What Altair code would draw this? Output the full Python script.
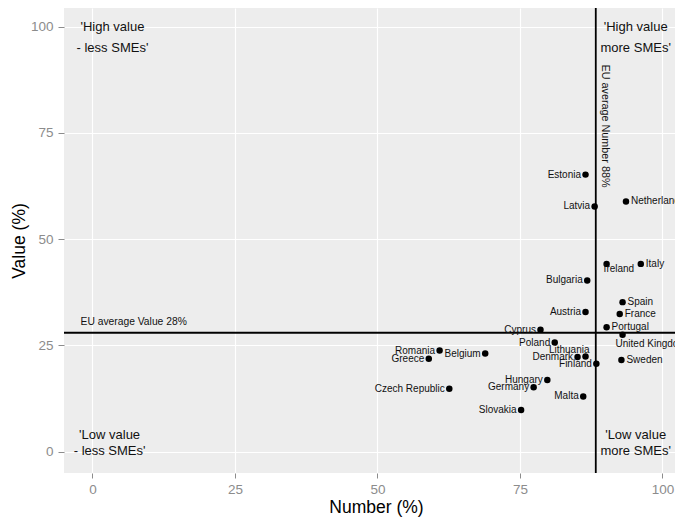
import altair as alt
import pandas as pd

# ---- data ----
countries = ["Estonia", "Latvia", "Netherlands", "Ireland", "Italy", "Bulgaria",
             "Spain", "France", "Austria", "Portugal", "Cyprus", "United Kingdom",
             "Poland", "Lithuania", "Denmark", "Finland", "Sweden", "Hungary",
             "Germany", "Malta", "Slovakia", "Romania", "Greece", "Belgium",
             "Czech Republic"]
number_pct = [86.5, 88.1, 93.6, 90.2, 96.2, 86.8,
              93.0, 92.5, 86.5, 90.2, 78.6, 93.0,
              81.1, 86.5, 85.1, 88.4, 92.8, 79.8,
              77.4, 86.1, 75.2, 60.9, 59.0, 68.9,
              62.6]
value_pct = [65.2, 57.7, 58.9, 44.2, 44.2, 40.3,
             35.2, 32.4, 32.9, 29.3, 28.7, 27.5,
             25.7, 22.4, 22.3, 20.7, 21.6, 16.9,
             15.2, 13.0, 9.8, 23.8, 21.9, 23.1,
             14.8]

eu_avg_number = 88.3
eu_avg_value = 28
eu_number_label = "EU average Number 88%"
eu_value_label = "EU average Value 28%"

x_ticks = [0, 25, 50, 75, 100]
y_ticks = [0, 25, 50, 75, 100]

quad_text = ["'High value", "- less SMEs'", "'High value", "more SMEs'",
             "'Low value", "- less SMEs'", "'Low value", "more SMEs'"]
quad_number = [3.5, 3.5, 95.3, 95.3, 3.0, 3.0, 95.3, 95.3]
quad_value = [99.9, 94.9, 99.9, 94.9, 4.0, 0.2, 4.0, 0.2]

# label placement groups
right_labels = ["Netherlands", "Italy", "Spain", "France", "Portugal", "Sweden"]
above_labels = ["Lithuania"]
below_labels_ireland = ["Ireland"]
below_labels_uk = ["United Kingdom"]
special = right_labels + above_labels + below_labels_ireland + below_labels_uk
left_labels = [c for c in countries if c not in special]

df = pd.DataFrame({"country": countries, "number": number_pct, "value": value_pct})

FONT = "Liberation Sans"

x_enc = alt.X("number:Q",
              scale=alt.Scale(domain=[-5, 102.2], nice=False, zero=False),
              axis=alt.Axis(values=x_ticks, title="Number (%)", tickSize=5,
                            labelPadding=4, titleBaseline="alphabetic",
                            titleY=39, titleX=312))
y_enc = alt.Y("value:Q",
              scale=alt.Scale(domain=[-5, 104.4], nice=False, zero=False),
              axis=alt.Axis(values=y_ticks, title="Value (%)", tickSize=6,
                            labelPadding=5, titleBaseline="alphabetic", titleX=-40))

base = alt.Chart(df).encode(x=x_enc, y=y_enc)

hline = alt.Chart(pd.DataFrame({"value": [eu_avg_value]})).mark_rule(
    color="black", strokeWidth=1.8).encode(y=y_enc)
vline = alt.Chart(pd.DataFrame({"number": [eu_avg_number]})).mark_rule(
    color="black", strokeWidth=1.8).encode(x=x_enc)

points = base.mark_circle(size=42, color="black", opacity=1)


def label_layer(group, align, dx, dy):
    return base.transform_filter(
        alt.FieldOneOfPredicate(field="country", oneOf=group)
    ).mark_text(align=align, baseline="middle", dx=dx, dy=dy, font=FONT,
                fontSize=10, color="#111111").encode(text="country:N")


labels = [
    label_layer(left_labels, "right", -4.5, 0),
    label_layer(right_labels, "left", 5, 0),
    label_layer(above_labels, "right", 4, -7),
    label_layer(below_labels_ireland, "left", -3, 5),
    label_layer(below_labels_uk, "left", -7, 9),
]

quad = alt.Chart(pd.DataFrame({"number": quad_number, "value": quad_value,
                               "t": quad_text})).mark_text(
    align="center", baseline="middle", font=FONT, fontSize=13, color="#111111"
).encode(x=x_enc, y=y_enc, text="t:N")

eu_val_txt = alt.Chart(pd.DataFrame({"number": [-2.1], "value": [30.6],
                                     "t": [eu_value_label]})).mark_text(
    align="left", baseline="middle", font=FONT, fontSize=10.3, color="#111111"
).encode(x=x_enc, y=y_enc, text="t:N")

eu_num_txt = alt.Chart(pd.DataFrame({"number": [90.0], "value": [91.1],
                                     "t": [eu_number_label]})).mark_text(
    align="left", baseline="middle", angle=90, font=FONT, fontSize=10.8,
    color="#111111"
).encode(x=x_enc, y=y_enc, text="t:N")

chart = alt.layer(hline, vline, points, *labels, quad, eu_val_txt, eu_num_txt).properties(
    width=611, height=465,
    padding={"left": 56, "top": 0, "right": 0, "bottom": 44},
    autosize=alt.AutoSizeParams(type="none"),
    background="white",
).configure_view(
    fill="#EDEDED", strokeWidth=0
).configure_axis(
    domain=False, grid=True, gridColor="white", gridWidth=1.2,
    tickColor="#8C8C8C", labelColor="#8C8C8C", labelFont=FONT, labelFontSize=13.5,
    titleFont=FONT, titleFontSize=17.5, titleFontWeight="normal", titleColor="black",
)

chart.save("out.html", embed_options={"renderer": "svg", "actions": False})
